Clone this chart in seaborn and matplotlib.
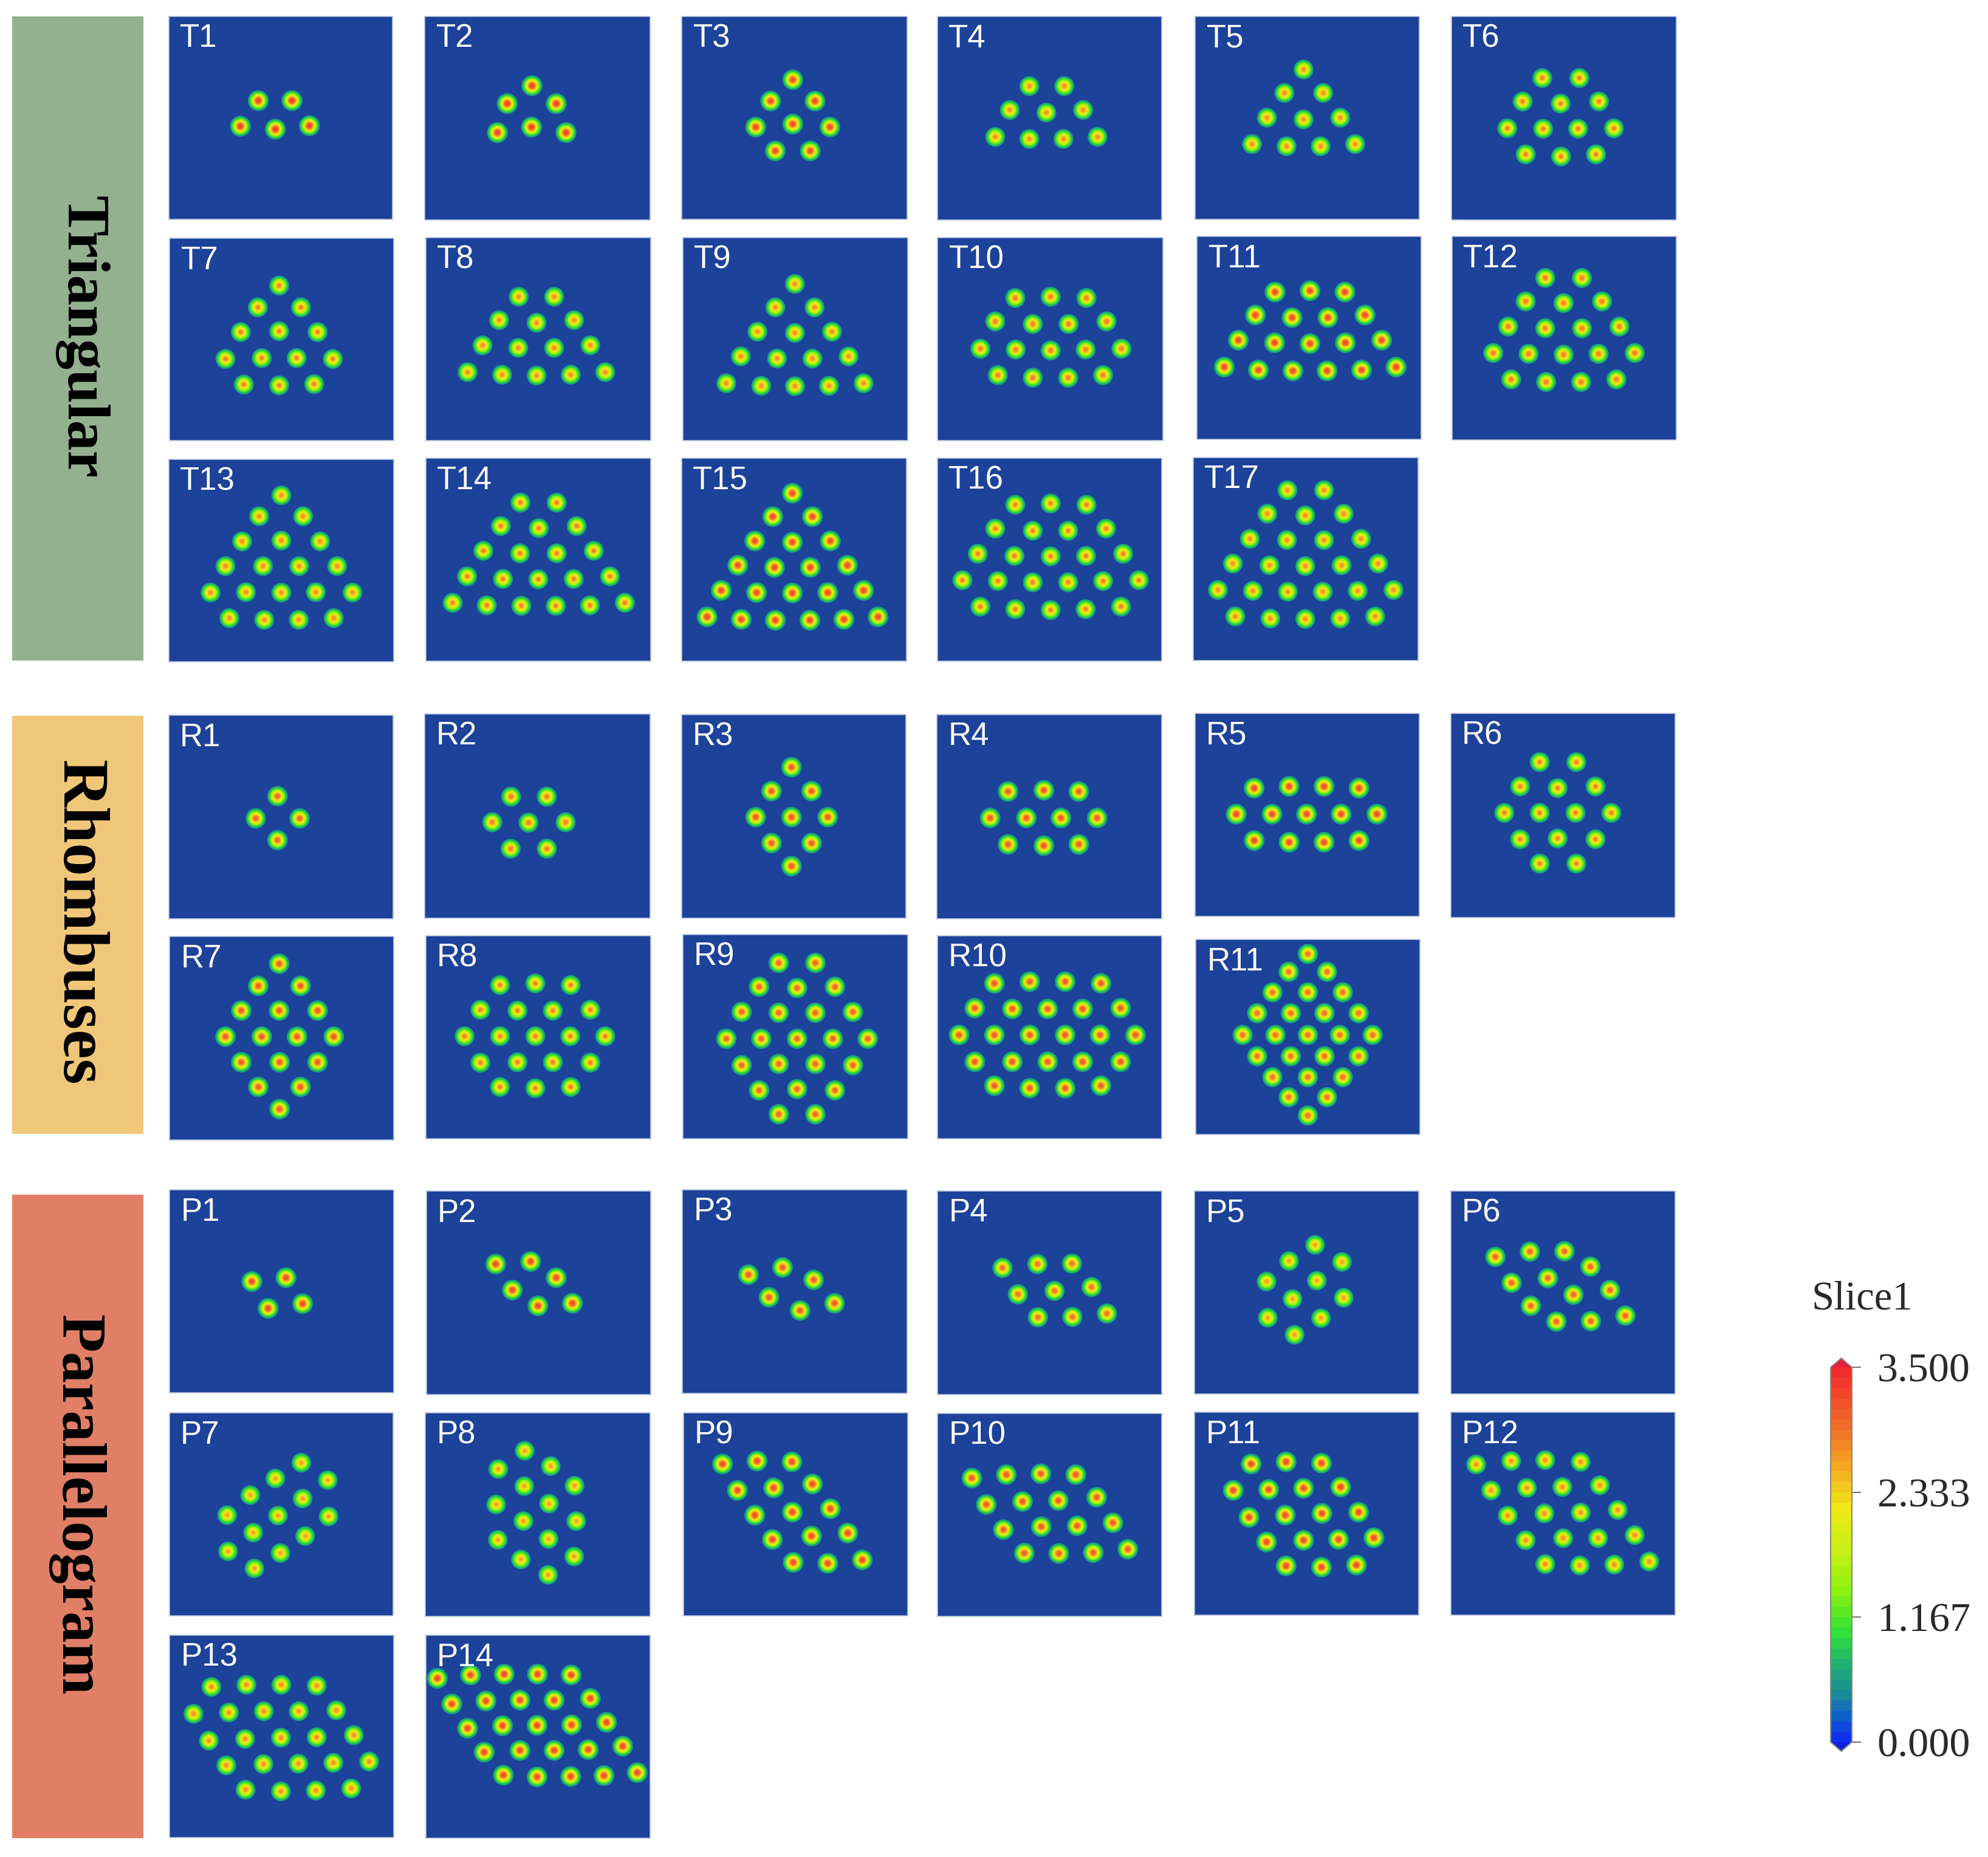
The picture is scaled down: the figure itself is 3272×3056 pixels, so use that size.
import matplotlib
matplotlib.use("Agg")
import matplotlib.pyplot as plt
import numpy as np
import pandas as pd
import seaborn as sns
from matplotlib.cm import ScalarMappable
from matplotlib.colors import LinearSegmentedColormap, Normalize
from matplotlib.patches import Rectangle

# spot centres, in the frame of the crop each panel lies in
T_SPOTS = {
    "T1": [(606,236),(685,236),(564,296),(646,303),(726,295)],
    "T2": [(1248,201),(1190,243),(1305,243),(1167,311),(1247,298),(1328,311)],
    "T3": [(292,187),(240,237),(344,237),(205,298),(292,291),(379,298),(251,354),(333,354)],
    "T4": [(847,202),(929,202),(801,258),(887,264),(973,258),(767,321),(847,326),(927,326),(1007,321)],
    "T5": [(350,163),(305,218),(396,218),(264,276),(350,280),(436,276),(229,338),(310,343),(390,343),(471,338)],
    "T6": [(910,183),(997,183),(864,238),(953,243),(1043,238),(828,301),(912,302),(994,302),(1078,301),(871,362),(954,367),(1036,362)],
    "T7": [(655,670),(605,721),(706,721),(565,779),(655,777),(745,779),(529,842),(614,840),(696,840),(781,842),(572,902),(655,904),(737,901)],
    "T8": [(1217,696),(1300,696),(1171,751),(1259,757),(1347,751),(1132,810),(1216,816),(1300,816),(1385,810),(1097,873),(1178,879),(1259,881),(1339,879),(1420,873)],
    "T9": [(297,666),(251,721),(343,721),(209,778),(297,781),(384,778),(170,836),(255,841),(338,841),(423,836),(136,899),(218,905),(297,906),(377,905),(458,899)],
    "T10": [(814,699),(897,696),(981,699),(767,754),(855,760),(939,760),(1028,754),(732,818),(815,820),(897,822),(979,820),(1063,818),(773,880),(855,886),(938,886),(1020,880)],
    "T11": [(283,685),(365,682),(447,685),(237,739),(323,745),(407,745),(494,739),(197,798),(282,804),(365,806),(448,804),(533,798),(164,861),(244,868),(325,870),(405,870),(486,868),(567,861)],
    "T12": [(917,652),(1003,652),(871,707),(960,711),(1050,707),(830,766),(917,770),(1003,770),(1091,766),(795,828),(878,830),(960,832),(1042,830),(1127,828),(837,890),(919,896),(1001,896),(1084,890)],
    "T13": [(660,1162),(608,1211),(711,1211),(568,1270),(660,1268),(751,1270),(529,1328),(617,1328),(702,1328),(791,1328),(494,1390),(577,1389),(660,1390),(741,1389),(827,1390),(538,1450),(620,1454),(701,1454),(783,1450)],
    "T14": [(1221,1179),(1306,1179),(1175,1234),(1264,1239),(1353,1234),(1134,1292),(1220,1298),(1306,1298),(1393,1292),(1096,1352),(1180,1358),(1263,1359),(1346,1358),(1431,1352),(1062,1414),(1142,1420),(1223,1421),(1304,1421),(1384,1420),(1466,1414)],
    "T15": [(291,1157),(245,1212),(338,1212),(203,1269),(291,1272),(380,1269),(163,1326),(249,1331),(333,1331),(420,1326),(124,1385),(207,1390),(291,1391),(374,1390),(458,1385),(91,1447),(171,1453),(251,1455),(332,1455),(412,1453),(492,1447)],
    "T16": [(814,1184),(897,1181),(981,1184),(767,1240),(855,1245),(938,1245),(1027,1240),(726,1299),(812,1304),(897,1305),(980,1304),(1067,1299),(690,1361),(773,1363),(855,1366),(938,1366),(1020,1363),(1104,1361),(732,1423),(814,1429),(897,1431),(979,1429),(1062,1423)],
    "T17": [(312,1150),(398,1150),(265,1205),(354,1209),(444,1205),(224,1264),(311,1267),(398,1267),(485,1264),(184,1322),(270,1326),(354,1328),(439,1326),(525,1322),(149,1384),(231,1386),(313,1388),(395,1388),(477,1386),(561,1384),(190,1446),(272,1451),(354,1452),(436,1451),(518,1446)],
}
R_SPOTS = {
    "R1": [(651,257),(600,309),(703,309),(651,360)],
    "R2": [(1199,258),(1283,258),(1155,318),(1240,319),(1327,318),(1198,380),(1283,380)],
    "R3": [(289,189),(242,245),(336,245),(205,306),(289,306),(374,306),(242,367),(336,367),(289,421)],
    "R4": [(797,246),(881,243),(963,246),(755,308),(840,308),(921,308),(1006,308),(797,370),(881,373),(963,370)],
    "R5": [(234,238),(316,234),(398,234),(480,238),(192,299),(276,299),(357,299),(438,299),(522,299),(234,361),(316,365),(398,365),(480,361)],
    "R6": [(904,177),(990,177),(858,234),(946,238),(1035,234),(821,296),(904,296),(988,296),(1072,296),(858,358),(946,356),(1035,358),(904,415),(990,415)],
    "R7": [(655,650),(606,702),(705,702),(566,760),(655,760),(745,760),(529,821),(614,821),(697,821),(783,821),(566,881),(656,881),(745,881),(606,939),(705,939),(656,991)],
    "R8": [(1173,700),(1256,696),(1339,700),(1127,758),(1214,760),(1297,760),(1385,758),(1090,820),(1173,820),(1256,820),(1338,820),(1420,820),(1127,882),(1214,881),(1297,881),(1385,882),(1173,939),(1256,942),(1339,939)],
    "R9": [(259,648),(345,648),(213,704),(302,707),(391,704),(172,763),(259,765),(345,765),(433,763),(136,826),(218,826),(302,826),(386,826),(468,826),(172,888),(259,885),(345,885),(433,888),(213,947),(302,944),(391,947),(259,1003),(345,1003)],
    "R10": [(765,696),(848,692),(931,692),(1015,696),(719,754),(807,756),(890,756),(972,756),(1061,754),(682,817),(765,817),(848,817),(931,817),(1013,817),(1096,817),(719,880),(807,880),(890,880),(972,880),(1061,880),(765,936),(848,942),(931,942),(1015,936)],
    "R11": [(360,627),(315,669),(405,669),(277,717),(360,717),(442,717),(241,766),(320,766),(399,766),(479,766),(207,817),(284,817),(360,817),(435,817),(512,817),(241,867),(320,867),(399,867),(479,867),(277,916),(360,916),(442,916),(315,963),(405,963),(360,1006)],
}
P_SPOTS = {
    "P1": [(591,218),(671,209),(629,281),(710,270)],
    "P2": [(1163,177),(1245,171),(1305,209),(1202,238),(1262,275),(1343,269)],
    "P3": [(188,202),(268,185),(341,214),(236,255),(309,286),(390,269)],
    "P4": [(784,186),(866,177),(947,176),(820,248),(906,240),(993,231),(867,302),(948,301),(1029,293)],
    "P5": [(377,132),(316,170),(440,172),(263,218),(381,216),(324,259),(444,256),(266,303),(391,304),(329,343)],
    "P6": [(800,160),(881,148),(962,147),(1023,183),(838,221),(923,210),(983,249),(1069,238),(883,275),(943,312),(1024,311),(1105,298)],
    "P7": [(707,643),(646,680),(769,684),(587,719),(710,727),(533,766),(652,767),(771,769),(594,807),(716,815),(535,851),(658,855),(597,891)],
    "P8": [(1231,615),(1169,658),(1292,651),(1230,698),(1348,697),(1164,741),(1288,739),(1228,780),(1352,780),(1168,824),(1287,822),(1222,870),(1347,863),(1286,906)],
    "P9": [(127,646),(208,639),(290,641),(162,708),(247,702),(338,693),(203,766),(291,759),(380,751),(244,823),(336,815),(421,808),(293,877),(374,879),(455,871)],
    "P10": [(712,679),(793,671),(874,669),(956,671),(746,741),(831,734),(915,732),(1005,724),(786,800),(875,793),(959,791),(1043,784),(835,855),(916,856),(997,854),(1078,846)],
    "P11": [(227,646),(309,641),(392,644),(185,708),(268,706),(350,703),(437,700),(222,771),(307,766),(393,762),(479,759),(263,829),(350,825),(432,823),(515,819),(309,885),(392,888),(474,883)],
    "P12": [(755,647),(837,639),(917,637),(1000,641),(790,708),(874,702),(957,700),(1045,696),(829,767),(915,762),(1000,760),(1087,754),(871,825),(959,820),(1041,820),(1127,813),(917,881),(998,884),(1079,882),(1161,875)],
    "P13": [(496,1169),(578,1164),(660,1164),(743,1166),(454,1232),(537,1229),(619,1226),(701,1226),(789,1224),(490,1295),(575,1291),(659,1288),(743,1287),(830,1282),(531,1353),(618,1350),(700,1349),(782,1347),(866,1344),(576,1410),(659,1414),(741,1412),(824,1407)],
    "P14": [(1026,1149),(1104,1141),(1183,1139),(1261,1139),(1340,1141),(1060,1209),(1140,1202),(1220,1200),(1300,1200),(1385,1196),(1097,1266),(1179,1260),(1260,1259),(1341,1258),(1423,1252),(1136,1322),(1220,1318),(1300,1318),(1380,1316),(1461,1308),(1181,1376),(1260,1380),(1339,1379),(1417,1377),(1495,1370)],
}

# peak value of the field in each panel
PEAKS = {
    "T1": 3.4, "T2": 3.4, "T3": 3.3, "T4": 2.8, "T5": 2.8, "T6": 2.85, "T7": 2.85, "T8": 2.8, "T9": 2.8,
    "T10": 2.9, "T11": 3.3, "T12": 2.9, "T13": 2.8, "T14": 2.85, "T15": 3.3, "T16": 2.85, "T17": 2.8,
    "R1": 3.1, "R2": 2.9, "R3": 3.2, "R4": 3.2, "R5": 3.3, "R6": 2.85, "R7": 3.2, "R8": 2.85, "R9": 3.1,
    "R10": 3.2, "R11": 3.0,
    "P1": 3.3, "P2": 3.3, "P3": 3.2, "P4": 3.0, "P5": 2.7, "P6": 3.1, "P7": 2.7, "P8": 2.7, "P9": 3.3,
    "P10": 3.2, "P11": 3.3, "P12": 2.8, "P13": 2.8, "P14": 3.3,
}

CBAR_TICKS = [0.0, 1.167, 2.333, 3.5]
CBAR_VALUES = [0.0, 0.2, 0.4, 0.7, 1.0, 1.4, 1.8, 2.2, 2.6, 2.9, 3.5]
CBAR_COLORS = ["#1030f0", "#1060c8", "#1a8898", "#20b070", "#30e038", "#8cf010",
               "#c8f018", "#f0e818", "#f5a623", "#f07828", "#f02c2c"]

# layout: crop origins in pixels, panel boxes in crop frame (x0, y0, x1, y1)
W, H = 3273, 3056
CROP_SCALE = 1568 / 1100
CROPS = {"A": (0, 0), "B": (1100, 0), "C": (1900, 0),
         "D": (0, 1130), "E": (1100, 1130), "F": (1900, 1130),
         "G": (0, 1956), "H": (1100, 1956), "I": (1900, 1956)}
BOXES = {
    "T1": ("A", 396, 38, 921, 515), "T2": ("A", 997, 38, 1525, 516),
    "T7": ("A", 398, 559, 924, 1034), "T8": ("A", 999, 557, 1526, 1033),
    "T13": ("A", 396, 1077, 923, 1553), "T14": ("A", 999, 1075, 1526, 1551),
    "T3": ("B", 32, 38, 560, 515), "T4": ("B", 631, 39, 1158, 516),
    "T9": ("B", 34, 558, 561, 1034), "T10": ("B", 632, 557, 1160, 1034),
    "T15": ("B", 31, 1075, 559, 1551), "T16": ("B", 631, 1075, 1158, 1551),
    "T5": ("C", 96, 38, 622, 515), "T6": ("C", 697, 38, 1224, 516),
    "T11": ("C", 100, 555, 626, 1030), "T12": ("C", 698, 555, 1224, 1032),
    "T17": ("C", 91, 1073, 618, 1549),
    "R1": ("D", 396, 67, 922, 544), "R2": ("D", 997, 64, 1525, 543),
    "R7": ("D", 398, 586, 924, 1063), "R8": ("D", 999, 584, 1526, 1061),
    "R3": ("E", 31, 65, 558, 543), "R4": ("E", 630, 65, 1158, 544),
    "R9": ("E", 34, 582, 561, 1060), "R10": ("E", 631, 584, 1158, 1061),
    "R5": ("F", 95, 63, 621, 539), "R6": ("F", 695, 63, 1222, 542),
    "R11": ("F", 97, 593, 623, 1050),
    "P1": ("G", 398, 3, 924, 479), "P2": ("G", 1000, 6, 1526, 483),
    "P7": ("G", 397, 526, 922, 1002), "P8": ("G", 998, 526, 1525, 1004),
    "P13": ("G", 398, 1047, 924, 1523), "P14": ("G", 999, 1048, 1525, 1524),
    "P3": ("H", 33, 3, 560, 480), "P4": ("H", 632, 5, 1158, 483),
    "P9": ("H", 35, 526, 561, 1002), "P10": ("H", 632, 527, 1158, 1004),
    "P5": ("I", 94, 5, 620, 482), "P6": ("I", 695, 5, 1221, 482),
    "P11": ("I", 94, 525, 620, 1001), "P12": ("I", 695, 525, 1221, 1001),
}
# side bands in pixels: x0, y0, x1, y1, colour, text, text x, text y, font size
BANDS = [
    (20, 27, 236, 1087, "#93b08f", "Triangular", 134, 554, 72),
    (20, 1178, 236, 1866, "#f0c678", "Rhombuses", 129, 1518, 78),
    (20, 1966, 236, 3025, "#e07f66", "Parallelogram", 126, 2476, 74),
]

PANEL_BG = "#1c4299"
SPOT_SIGMA = 8.8  # px
PT_PER_PX = 72 / 100


def make_cmap():
    pos = np.array(CBAR_VALUES) / CBAR_VALUES[-1]
    cmap = LinearSegmentedColormap.from_list("slice1", list(zip(pos, CBAR_COLORS)), N=36)
    cmap.set_under("#1020e0")
    cmap.set_over("#e02040")
    return cmap


def spot_layers(spots, peak):
    # concentric discs for each spot, big and dim first, so they stack like a gaussian bump
    levels = np.linspace(0.5, peak - 0.02, 24)
    rows = []
    for v in levels:
        radius = SPOT_SIGMA * np.sqrt(2 * np.log(peak / v))
        area = (2 * radius * PT_PER_PX) ** 2
        for x, y in spots:
            rows.append({"x": x, "y": y, "value": v, "area": area})
    return pd.DataFrame(rows)


def draw_panel(fig, label, spots, cmap, norm):
    crop, x0, y0, x1, y1 = BOXES[label]
    ox, oy = CROPS[crop]
    left = ox + x0 / CROP_SCALE
    right = ox + x1 / CROP_SCALE
    top = oy + y0 / CROP_SCALE
    bottom = oy + y1 / CROP_SCALE
    ax = fig.add_axes([left / W, 1 - bottom / H, (right - left) / W, (bottom - top) / H])
    ax.set_facecolor(PANEL_BG)

    df = spot_layers(spots, PEAKS[label])
    sns.scatterplot(data=df, x="x", y="y", hue="value", palette=cmap, hue_norm=norm,
                    s=df["area"].values, linewidth=0, legend=False, ax=ax)
    ax.set_xlim(x0, x1)
    ax.set_ylim(y1, y0)
    ax.set_xticks([])
    ax.set_yticks([])
    ax.set_xlabel("")
    ax.set_ylabel("")
    for spine in ax.spines.values():
        spine.set_color("#b9c6e2")
        spine.set_linewidth(1.2)
    ax.text(x0 + 26, y0 + 72, label, color="white", fontsize=38,
            family="Liberation Sans", ha="left", va="baseline", zorder=5)


def main():
    sns.set_theme(style="white")
    plt.rcParams["font.family"] = ["Liberation Serif", "DejaVu Serif"]

    fig = plt.figure(figsize=(W / 100, H / 100), dpi=100, facecolor="white")

    bg = fig.add_axes([0, 0, 1, 1], zorder=-1)
    bg.set_xlim(0, W)
    bg.set_ylim(H, 0)
    bg.axis("off")
    for x0, y0, x1, y1, color, name, tx, ty, size in BANDS:
        bg.add_patch(Rectangle((x0, y0), x1 - x0, y1 - y0, facecolor=color, edgecolor="none"))
        bg.text(tx, ty, name, rotation=-90, ha="center", va="center", fontsize=size,
                fontweight="bold", color="black")

    cmap = make_cmap()
    norm = Normalize(vmin=CBAR_TICKS[0], vmax=CBAR_TICKS[-1])

    for group in (T_SPOTS, R_SPOTS, P_SPOTS):
        for label, spots in group.items():
            draw_panel(fig, label, spots, cmap, norm)

    cax = fig.add_axes([3013 / W, 1 - 2882 / H, 35 / W, 647 / H])
    cb = fig.colorbar(ScalarMappable(norm=norm, cmap=cmap), cax=cax, extend="both",
                      extendfrac=16 / 647, ticks=CBAR_TICKS, format="%.3f")
    cb.outline.set_edgecolor("#8a8a7a")
    cb.outline.set_linewidth(1.5)
    cb.ax.tick_params(length=11, width=1.5, color="#777777", pad=19, labelsize=49,
                      labelcolor="#2a2a2a")
    bg.text(3065, 2138, "Slice1", ha="center", va="center", fontsize=48, color="#2a2a2a")

    fig.savefig("out.png", dpi=100, facecolor="white")


if __name__ == "__main__":
    main()
